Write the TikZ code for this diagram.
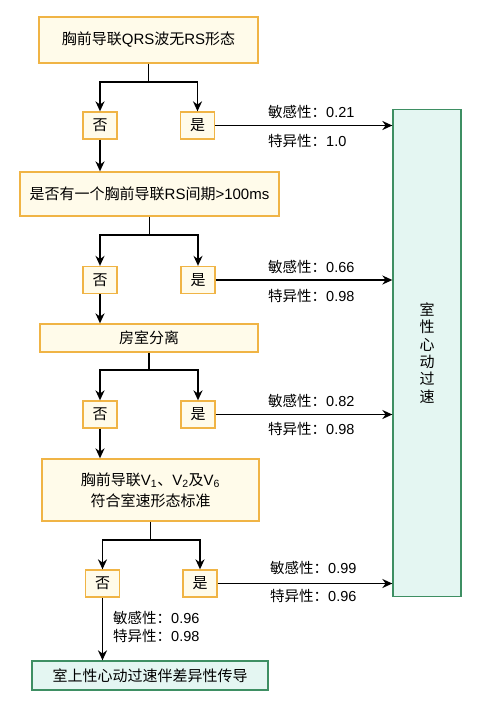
\documentclass[tikz,border=0pt]{standalone}
\usepackage{fontspec}
\setmainfont{Liberation Sans}
\newfontfamily\cjk{Noto Sans CJK SC}
\usetikzlibrary{arrows.meta}
\definecolor{ylwline}{HTML}{F0B445}
\definecolor{ylwfill}{HTML}{FFFBEA}
\definecolor{tealline}{HTML}{3E8F63}
\definecolor{tealfill}{HTML}{E4F6F2}
\tikzset{
  ybox/.style={draw=ylwline, fill=ylwfill, line width=1.3pt, inner sep=0pt, align=center, font=\fontsize{15}{21}\selectfont},
  gbox/.style={draw=tealline, fill=tealfill, line width=1.3pt, inner sep=0pt, align=center, font=\fontsize{15}{21}\selectfont},
  choice/.style={ybox, minimum width=34pt, minimum height=27pt, font=\cjk\fontsize{15}{18}\selectfont},
  arr/.style={line width=1.7pt, -{Stealth[length=10pt,width=9pt]}},
  conn/.style={line width=1.7pt},
  stat/.style={anchor=west, inner sep=0pt, font=\fontsize{14.5}{16}\selectfont},
}
\begin{document}
\begin{tikzpicture}[x=1pt,y=-1pt]
\useasboundingbox (0,0) rectangle (489,704);

% decision boxes
\node[ybox, minimum width=219pt, minimum height=46pt] (b1) at (148.5,40) {{\cjk 胸前导联}QRS{\cjk 波无}RS{\cjk 形态}};
\node[ybox, minimum width=259pt, minimum height=44pt] (b2) at (149.5,194) {{\cjk 是否有一个胸前导联}RS{\cjk 间期}>100ms};
\node[ybox, minimum width=218pt, minimum height=28pt] (b3) at (149,338) {\cjk 房室分离};
\node[ybox, minimum width=217pt, minimum height=62pt] (b4) at (150.5,490) {{\cjk 胸前导联}V\textsubscript{1}{\cjk 、}V\textsubscript{2}{\cjk 及}V\textsubscript{6}\\{\cjk 符合室速形态标准}};
\node[gbox, minimum width=236pt, minimum height=29pt] (svt) at (150,675.5) {\cjk 室上性心动过速伴差异性传导};
\node[gbox, minimum width=68pt, minimum height=487pt, font=\cjk\fontsize{15}{17.4}\selectfont] (vt) at (427,353) {室\\性\\心\\动\\过\\速};

% yes / no boxes
\node[choice] (n1) at (100,125.5) {否};
\node[choice] (y1) at (197.5,125.5) {是};
\node[choice] (n2) at (100,280) {否};
\node[choice] (y2) at (198,280) {是};
\node[choice] (n3) at (100,414.5) {否};
\node[choice] (y3) at (198,414.5) {是};
\node[choice] (n4) at (102.5,583.5) {否};
\node[choice] (y4) at (200,583.5) {是};

% branching connectors
\foreach \b/\n/\y/\d in {b1/n1/y1/18, b2/n2/y2/18, b3/n3/y3/17, b4/n4/y4/18}{
  \draw[conn] (\b.south) -- ++(0,\d) coordinate (j\b);
  \draw[arr] (j\b) -| (\n.north);
  \draw[arr] (j\b) -| (\y.north);
}

% "no" paths down to the next step
\draw[arr] (n1.south) -- (n1.south |- b2.north);
\draw[arr] (n2.south) -- (n2.south |- b3.north);
\draw[arr] (n3.south) -- (n3.south |- b4.north);
\draw[arr] (n4.south) -- (n4.south |- svt.north);

% "yes" paths to VT
\draw[arr] (y1.east) -- (y1.east -| vt.west);
\draw[arr] (y2.east) -- (y2.east -| vt.west);
\draw[arr] (y3.east) -- (y3.east -| vt.west);
\draw[arr] (y4.east) -- (y4.east -| vt.west);

% sensitivity / specificity
\node[stat] (s1) at (268,112) {{\cjk 敏感性：}0.21};
\node[stat] (p1) at (268,141) {{\cjk 特异性：}1.0};
\node[stat] (s2) at (268,267) {{\cjk 敏感性：}0.66};
\node[stat] (p2) at (268,296) {{\cjk 特异性：}0.98};
\node[stat] (s3) at (268,401) {{\cjk 敏感性：}0.82};
\node[stat] (p3) at (268,429) {{\cjk 特异性：}0.98};
\node[stat] (s4) at (270,568) {{\cjk 敏感性：}0.99};
\node[stat] (p4) at (270,596) {{\cjk 特异性：}0.96};
\node[stat] (s5) at (113,618) {{\cjk 敏感性：}0.96};
\node[stat] (p5) at (113,636) {{\cjk 特异性：}0.98};
\end{tikzpicture}
\end{document}
